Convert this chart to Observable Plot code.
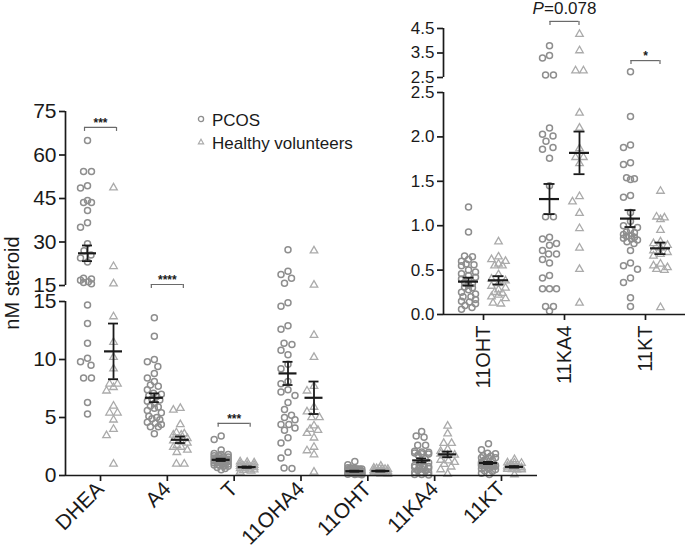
<!DOCTYPE html>
<html><head><meta charset="utf-8">
<script src="https://cdn.jsdelivr.net/npm/d3@7"></script>
<script src="https://cdn.jsdelivr.net/npm/@observablehq/plot@0.6"></script>
<style>
body{margin:0;background:#fff;font-family:"Liberation Sans",Arial,Helvetica,sans-serif;}
#chart{position:relative;width:685px;height:550px;overflow:hidden;}
#chart svg.panel{position:absolute;left:0;top:0;}
.lg{position:absolute;font-size:17px;line-height:19px;color:#1a1a1a;white-space:nowrap;}
#ylab{position:absolute;left:-88px;top:271px;width:200px;height:24px;line-height:24px;text-align:center;font-size:20px;color:#1a1a1a;transform:rotate(-90deg);}
</style></head><body><div id="chart"></div>
<script>
// ---------- data ----------
const categories = ["DHEA","A4","T","11OHA4","11OHT","11KA4","11KT"];
const insetCategories = ["11OHT","11KA4","11KT"];
const groups = ["PCOS","Healthy volunteers"];

const dheaPCOS = [65,54.3,54.3,49.4,48.6,44.3,43.6,43.6,40.9,36.6,35.1,29.4,27.0,25.5,24.5,23.1,17.5,17.2,16.8,16.3,16.0,15.6,14.7,13.1,11.4,10.1,9.8,9.5,8.4,8.4,6.3,5.3];
const dheaHV = [48.7,21.6,15.6,13.7,11.5,10.2,9.2,7.9,7.9,7.6,7.3,6.0,5.4,5.4,4.8,4.0,3.45,1.0];
const a4PCOS = [13.6,12.0,10.0,9.8,9.4,8.8,8.4,8.1,7.8,7.7,7.4,7.1,7.0,6.9,6.8,6.6,6.5,6.4,6.2,6.0,5.9,5.8,5.6,5.4,5.1,5.0,4.9,4.8,4.6,4.5,4.4,4.2,4.2,3.6];
const a4HV = [5.8,5.65,4.4,3.7,3.6,3.5,3.5,3.2,3.0,2.9,2.8,2.6,2.45,2.45,2.2,2.0,1.0,1.0];
const tPCOS = [3.4,3.1,2.2,1.9,1.8,1.8,1.7,1.7,1.6,1.6,1.5,1.5,1.5,1.4,1.4,1.4,1.3,1.3,1.3,1.2,1.2,1.2,1.1,1.1,1.1,1.0,1.0,1.0,0.9,0.9,0.8,0.8,0.7,0.6,0.5];
const tHV = [1.2,1.15,1.1,1.0,0.9,0.9,0.8,0.8,0.75,0.7,0.7,0.6,0.6,0.5,0.5,0.45,0.4,0.3];
const ohA4PCOS = [27.3,19.9,18.8,17.5,15.8,14.9,14.6,12.9,12.6,11.4,11.3,10.8,10.4,9.6,9.2,8.1,7.9,7.4,7.2,6.9,6.3,5.7,5.2,5.0,4.8,4.4,4.4,4.1,3.9,3.25,2.8,2.0,1.5,0.65,0.6];
const ohA4HV = [27.0,15.2,12.1,10.2,7.7,7.3,5.9,5.5,5.0,5.0,4.3,4.0,3.9,3.65,3.25,2.45,2.15,1.8,0.3];
const ohtPCOS = [1.21,0.93,0.66,0.65,0.62,0.6,0.57,0.56,0.55,0.5,0.48,0.46,0.44,0.42,0.4,0.38,0.36,0.35,0.33,0.31,0.3,0.28,0.25,0.23,0.2,0.2,0.17,0.15,0.14,0.12,0.1,0.08,0.06];
const ohtHV = [0.82,0.65,0.62,0.6,0.57,0.55,0.55,0.45,0.4,0.38,0.35,0.32,0.3,0.28,0.25,0.24,0.22,0.2,0.18,0.13,0.12];
const ka4PCOS = [3.8,3.4,3.3,2.6,2.6,2.1,2.03,2.01,1.95,1.88,1.86,1.76,1.45,1.1,1.1,0.87,0.85,0.8,0.78,0.72,0.68,0.68,0.62,0.58,0.44,0.41,0.29,0.29,0.29,0.09,0.09,0.04];
const ka4HV = [4.27,3.6,2.78,2.78,2.27,2.1,1.87,1.77,1.77,1.7,1.33,1.27,1.14,0.97,0.75,0.51,0.13];
const ktPCOS = [2.73,2.23,1.91,1.88,1.71,1.69,1.54,1.53,1.52,1.34,1.32,1.15,1.05,1.0,0.98,0.95,0.93,0.92,0.9,0.89,0.88,0.87,0.86,0.85,0.84,0.82,0.8,0.72,0.58,0.55,0.51,0.41,0.36,0.19,0.09];
const ktHV = [1.39,1.1,1.09,1.07,0.95,0.82,0.8,0.78,0.75,0.72,0.7,0.68,0.66,0.57,0.55,0.53,0.51,0.5,0.08];

const pcosMean = [26.1,6.7,1.35,8.8,0.37,1.30,1.08];
const pcosSEM  = [2.7,0.38,0.1,1.0,0.045,0.17,0.095];
const hvMean   = [10.7,3.08,0.72,6.7,0.385,1.82,0.745];
const hvSEM    = [2.4,0.28,0.06,1.4,0.047,0.24,0.065];

const mainTicksUpper = [15,30,45,60,75];
const mainTicksLower = [0,5,10,15];
const insetTicksUpper = [2.5,3.5,4.5];
const insetTicksLower = [0,0.5,1,1.5,2,2.5];

const sigPanels = ["main","main","main","inset","inset"];
const sigCats   = ["DHEA","A4","T","11KA4","11KT"];
const sigLevels = [69.5,15.35,4.5,4.79,3.19];
const sigLabels = ["***","****","***","=0.078","*"];

// ---------- drawing ----------
const W = 685, H = 550;
const FONT = '"Liberation Sans", Arial, Helvetica, sans-serif';
const INK = "#1a1a1a";
const C_PCOS = "#8e8e8e", C_HV = "#ababab";
const pcosByCat = [dheaPCOS,a4PCOS,tPCOS,ohA4PCOS,ohtPCOS,ka4PCOS,ktPCOS];
const hvByCat   = [dheaHV,a4HV,tHV,ohA4HV,ohtHV,ka4HV,ktHV];

// row-wise symmetric beeswarm (Prism-like), offsets in pixels
function swarmOffsets(pys, diam, maxOff) {
  const n = pys.length, off = new Array(n), placed = [];
  const order = d3.range(n).sort((a, b) => pys[a] - pys[b]);
  const rows = [];
  for (const i of order) {
    const r = rows[rows.length - 1];
    if (r && pys[i] - r.y0 < 1.5) r.idx.push(i); else rows.push({y0: pys[i], idx: [i]});
  }
  for (const r of rows) {
    const m = r.idx.length;
    const gap = m > 1 ? Math.min(diam * 1.08, 2 * maxOff / (m - 1)) : 0;
    const base = r.idx.map((_, j) => (j - (m - 1) / 2) * gap);
    const span = m > 1 ? (m - 1) * gap / 2 : 0;
    const room = Math.max(0, maxOff - span);
    const shifts = [0];
    for (let s = room / 2; s <= room + 1e-9 && room > 0; s += room / 2) shifts.push(-s, s);
    let best = 0, bestD = -1;
    for (const s of shifts) {
      let md = Infinity;
      r.idx.forEach((i, j) => { for (const p of placed) md = Math.min(md, Math.hypot(base[j] + s - off[p], pys[i] - pys[p])); });
      if (md >= diam) { best = s; break; }
      if (md > bestD) { bestD = md; best = s; }
    }
    r.idx.forEach((i, j) => { off[i] = base[j] + best; });
    r.idx.forEach(i => placed.push(i));
  }
  return off;
}

function panel(cfg) {
  const {name, cats, xDomain, left, right, yDomain, bottom, top, inPanel, yTicks, yFmt, fs,
         xAxis, xFs, xRotate, xPad, groupPx, meanHalf, capHalf, bracketHalf, maxOff} = cfg;
  const xs = Plot.scale({x: {domain: xDomain, range: [left, right]}});
  const ys = Plot.scale({y: {domain: yDomain, range: [bottom, top]}});
  const ppu = xs.apply(1) - xs.apply(0);
  const [lo, hi] = yDomain;
  const pts = [], stats = [];
  cats.forEach((c, i) => {
    const k = categories.indexOf(c);
    [[pcosByCat[k], groups[0], -1, pcosMean[k], pcosSEM[k]],
     [hvByCat[k], groups[1], 1, hvMean[k], hvSEM[k]]].forEach(([vals, g, side, m, s]) => {
      const vs = vals.filter(inPanel);
      const off = swarmOffsets(vs.map(v => ys.apply(v)), 7.3, maxOff);
      vs.forEach((v, j) => pts.push({cat: c, group: g, value: v, x: i + (side * groupPx + off[j]) / ppu}));
      if (m >= lo && m <= hi) stats.push({x: i + side * groupPx / ppu, mean: m, sem: s});
    });
  });
  const caps = stats.flatMap(d => [{x: d.x, y: d.mean - d.sem}, {x: d.x, y: d.mean + d.sem}]);
  const sigs = sigCats.map((c, j) => ({c, p: sigPanels[j], i: cats.indexOf(c), y: sigLevels[j], label: sigLabels[j]}))
    .filter(d => d.p === name && d.i >= 0 && (d.y > 15 ? inPanel(d.y) : inPanel(d.y) || d.y <= hi * 1.03) && (inPanel(d.y) || Math.abs(d.y - hi) < 0.05 * (hi - lo)));
  const drop = y => ys.invert(ys.apply(y) + 4);
  const ends = sigs.flatMap(d => [{x: d.i - bracketHalf / ppu, y: d.y}, {x: d.i + bracketHalf / ppu, y: d.y}]);
  const pv = sigs.filter(d => !d.label.includes("*"));
  const marks = [
    Plot.ruleX([xDomain[0]], {stroke: INK, strokeWidth: 1.7}),
    Plot.axisY({ticks: yTicks, tickFormat: yFmt, tickSize: 6, tickPadding: 3, fontSize: fs, label: null, stroke: INK, strokeWidth: 1.7, fill: INK}),
    Plot.dot(pts.filter(d => d.group === groups[0]), {x: "x", y: "value", r: 3, stroke: C_PCOS, strokeWidth: 1.5, fill: "none"}),
    Plot.dot(pts.filter(d => d.group === groups[1]), {x: "x", y: "value", symbol: "triangle", r: 2.8, stroke: C_HV, strokeWidth: 1.3, fill: "none"}),
    Plot.ruleY(stats, {y: "mean", x1: d => d.x - meanHalf / ppu, x2: d => d.x + meanHalf / ppu, stroke: INK, strokeWidth: 2.2}),
    Plot.ruleX(stats, {x: "x", y1: d => d.mean - d.sem, y2: d => d.mean + d.sem, stroke: INK, strokeWidth: 1.8}),
    Plot.ruleY(caps, {y: "y", x1: d => d.x - capHalf / ppu, x2: d => d.x + capHalf / ppu, stroke: INK, strokeWidth: 1.8}),
    Plot.ruleY(sigs, {y: "y", x1: d => d.i - bracketHalf / ppu, x2: d => d.i + bracketHalf / ppu, stroke: "#6a6a6a", strokeWidth: 1.2}),
    Plot.ruleX(ends, {x: "x", y1: "y", y2: d => drop(d.y), stroke: "#6a6a6a", strokeWidth: 1.2}),
    Plot.text(sigs.filter(d => d.label.includes("*")), {x: "i", y: "y", text: "label", dy: -4, fontSize: 12, fontWeight: "bold", fill: INK}),
    Plot.text(pv, {x: "i", y: "y", text: () => "P", dx: -32, dy: -13, textAnchor: "start", fontStyle: "italic", fontSize: 17, fill: INK}),
    Plot.text(pv, {x: "i", y: "y", text: "label", dx: -20.5, dy: -13, textAnchor: "start", fontSize: 17, fill: INK})
  ];
  if (xAxis) {
    marks.push(Plot.ruleY([yDomain[0]], {stroke: INK, strokeWidth: 1.7}));
    marks.push(Plot.axisX({ticks: d3.range(cats.length), tickFormat: i => cats[i], tickSize: 6, tickPadding: xPad,
      tickRotate: xRotate, fontSize: xFs, label: null, stroke: INK, strokeWidth: 1.7, fill: INK}));
  }
  const svg = Plot.plot({
    width: W, height: H,
    marginLeft: left, marginRight: W - right, marginTop: top, marginBottom: H - bottom,
    x: {domain: xDomain, ...(xAxis ? {} : {axis: null})},
    y: {domain: yDomain},
    style: {background: "transparent", fontFamily: FONT, color: INK, overflow: "visible"},
    marks
  });
  svg.classList.add("panel");
  return svg;
}

const chart = document.getElementById("chart");
const mainX = {name: "main", cats: categories, xDomain: [-0.524, 6.539], left: 65, right: 537, groupPx: 13,
  meanHalf: 9, capHalf: 5, bracketHalf: 16, maxOff: 7, fs: 21};
const insetX = {name: "inset", cats: insetCategories, xDomain: [-0.494, 2.494], left: 443, right: 685, groupPx: 15,
  meanHalf: 10, capHalf: 5.5, bracketHalf: 14.5, maxOff: 7, fs: 17};

chart.appendChild(panel({...mainX, yDomain: [0, 15], bottom: 475, top: 301, inPanel: v => v <= 15,
  yTicks: mainTicksLower, yFmt: d3.format("d"), xAxis: true, xFs: 21, xRotate: -45, xPad: 4}));
chart.appendChild(panel({...mainX, yDomain: [15, 75], bottom: 285, top: 111, inPanel: v => v > 15,
  yTicks: mainTicksUpper, yFmt: d3.format("d"), xAxis: false}));
chart.appendChild(panel({...insetX, yDomain: [0, 2.5], bottom: 314, top: 92, inPanel: v => v <= 2.5,
  yTicks: insetTicksLower, yFmt: d3.format(".1f"), xAxis: true, xFs: 20, xRotate: -90, xPad: 5}));
chart.appendChild(panel({...insetX, yDomain: [2.5, 4.5], bottom: 77, top: 28, inPanel: v => v > 2.5,
  yTicks: insetTicksUpper, yFmt: d3.format(".1f"), xAxis: false}));

// legend and y label
const lg = document.createElement("div");
lg.innerHTML = `
<svg style="position:absolute;left:196px;top:114px" width="10" height="10"><circle cx="5" cy="5" r="2.6" fill="none" stroke="${C_PCOS}" stroke-width="1.3"/></svg>
<svg style="position:absolute;left:196px;top:137px" width="10" height="10"><path d="M5,2.2L7.6,6.8L2.4,6.8Z" fill="none" stroke="${C_HV}" stroke-width="1.2"/></svg>
<div class="lg" style="left:212px;top:110.5px">${groups[0]}</div>
<div class="lg" style="left:212px;top:133.5px">${groups[1]}</div>
<div id="ylab">nM steroid</div>`;
chart.appendChild(lg);
</script></body></html>
